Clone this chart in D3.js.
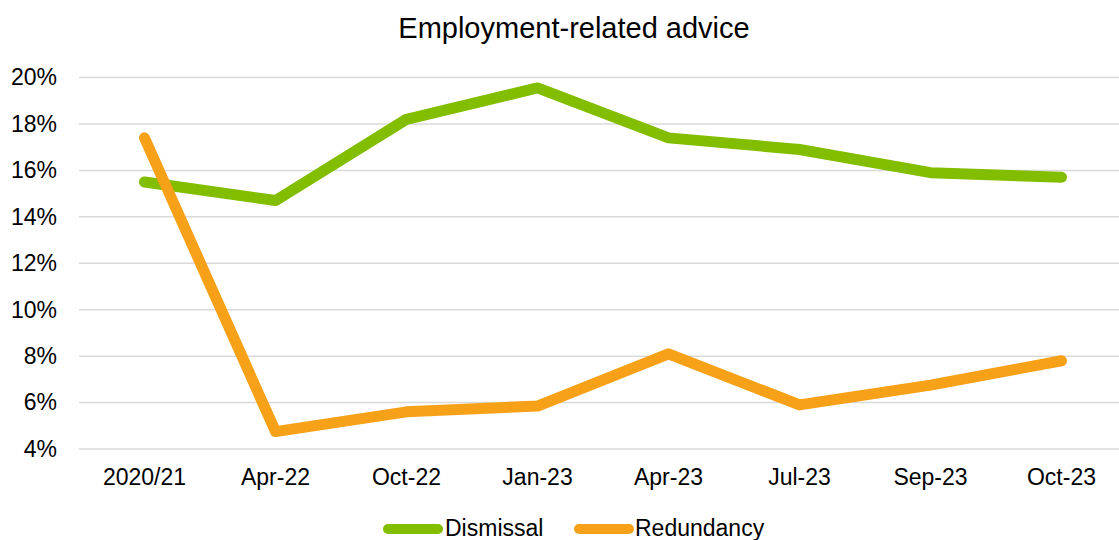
<!DOCTYPE html>
<html>
<head>
<meta charset="utf-8">
<script src="https://cdn.jsdelivr.net/npm/d3@7"></script>
<style>
  html, body { margin: 0; padding: 0; background: #fff; }
  svg { display: block; font-family: "Liberation Sans", Arial, sans-serif; }
</style>
</head>
<body>
<svg id="chart" width="1119" height="540"></svg>
<script>
// Share of employment-related advice by topic
const categories = ["2020/21", "Apr-22", "Oct-22", "Jan-23", "Apr-23", "Jul-23", "Sep-23", "Oct-23"];
const dismissal  = [15.5, 14.7, 18.2, 19.55, 17.4, 16.9, 15.9, 15.7];
const redundancy = [17.4, 4.75, 5.6, 5.85, 8.1, 5.9, 6.75, 7.8];
const yTicks = [4, 6, 8, 10, 12, 14, 16, 18, 20];
const seriesNames = ["Dismissal", "Redundancy"];
const seriesColors = ["#83BD00", "#F6A118"];

const svg = d3.select("#chart");

const x = d3.scaleBand().domain(categories).range([79, 1127]);
const y = d3.scaleLinear().domain([4, 20]).range([449, 77.5]);

// Title
svg.append("text")
  .attr("x", 574).attr("y", 38)
  .attr("text-anchor", "middle")
  .attr("font-size", 29)
  .attr("fill", "#000")
  .text("Employment-related advice");

// Horizontal gridlines
svg.append("g")
  .selectAll("line")
  .data(yTicks)
  .join("line")
  .attr("x1", 79).attr("x2", 1127)
  .attr("y1", d => y(d)).attr("y2", d => y(d))
  .attr("stroke", "#D9D9D9")
  .attr("stroke-width", 1.5);

// Y axis labels
const yAxis = d3.axisLeft(y).tickValues(yTicks).tickSize(0).tickPadding(0)
  .tickFormat(d => d + "%");
svg.append("g")
  .attr("transform", "translate(57,0)")
  .call(yAxis)
  .call(g => g.select(".domain").remove())
  .call(g => g.selectAll("text")
    .attr("font-size", 23)
    .attr("font-family", "Liberation Sans, Arial, sans-serif")
    .attr("fill", "#000"));

// X axis labels
const xAxis = d3.axisBottom(x).tickSize(0).tickPadding(0);
svg.append("g")
  .attr("transform", "translate(0,469)")
  .call(xAxis)
  .call(g => g.select(".domain").remove())
  .call(g => g.selectAll("text")
    .attr("font-size", 23)
    .attr("font-family", "Liberation Sans, Arial, sans-serif")
    .attr("fill", "#000"));

// Lines
const line = d3.line()
  .x((d, i) => x(categories[i]) + x.bandwidth() / 2)
  .y(d => y(d));

[dismissal, redundancy].forEach((vals, i) => {
  svg.append("path")
    .datum(vals)
    .attr("d", line)
    .attr("fill", "none")
    .attr("stroke", seriesColors[i])
    .attr("stroke-width", 11)
    .attr("stroke-linejoin", "round")
    .attr("stroke-linecap", "round");
});

// Legend
const legendItems = [
  { name: seriesNames[0], color: seriesColors[0], x0: 388, x1: 438, tx: 445 },
  { name: seriesNames[1], color: seriesColors[1], x0: 579, x1: 629, tx: 635 }
];
const lg = svg.append("g");
legendItems.forEach(it => {
  lg.append("line")
    .attr("x1", it.x0).attr("x2", it.x1)
    .attr("y1", 529).attr("y2", 529)
    .attr("stroke", it.color)
    .attr("stroke-width", 10)
    .attr("stroke-linecap", "round");
  lg.append("text")
    .attr("x", it.tx).attr("y", 536)
    .attr("font-size", 23)
    .attr("fill", "#000")
    .text(it.name);
});
</script>
</body>
</html>
